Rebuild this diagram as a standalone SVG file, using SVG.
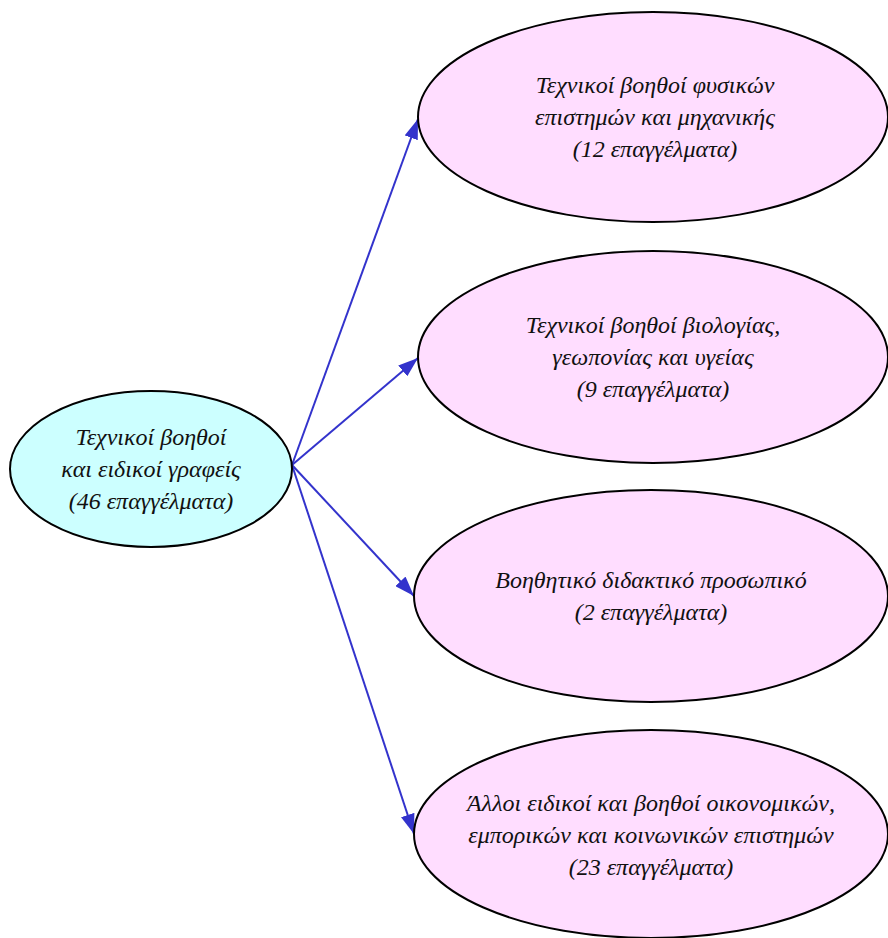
<svg xmlns="http://www.w3.org/2000/svg" width="888" height="938" viewBox="0 0 888 938">
<defs>
<style>
.root ellipse{fill:#ccffff;stroke:#000;stroke-width:2}
.leaf ellipse{fill:#ffddff;stroke:#000;stroke-width:2}
text{font-family:"Liberation Serif","DejaVu Serif",serif;font-style:italic;font-size:24px;fill:#111;text-anchor:middle}
.edge{stroke:#3333cc;stroke-width:2;fill:none}
</style>
<marker id="ah" viewBox="0 0 20 14" refX="20" refY="7" markerWidth="20" markerHeight="14" markerUnits="userSpaceOnUse" orient="auto">
<path d="M0,0 L20,7 L0,14 Z" fill="#3333cc"/>
</marker>
</defs>
<rect width="888" height="938" fill="#fff"/>
<g id="connectors">
<line class="edge" x1="292" y1="465" x2="418" y2="119" marker-end="url(#ah)"/>
<line class="edge" x1="292" y1="465" x2="418" y2="358" marker-end="url(#ah)"/>
<line class="edge" x1="292" y1="465" x2="414" y2="596" marker-end="url(#ah)"/>
<line class="edge" x1="292" y1="465" x2="414" y2="834" marker-end="url(#ah)"/>
</g>
<g id="root" class="root">
<ellipse cx="151" cy="469" rx="141" ry="78"/>
<text x="151" y="445">Τεχνικοί βοηθοί</text>
<text x="151" y="477">και ειδικοί γραφείς</text>
<text x="151" y="509">(46 επαγγέλματα)</text>
</g>
<g id="n1" class="leaf">
<ellipse cx="653" cy="117" rx="235" ry="105"/>
<text x="655" y="93">Τεχνικοί βοηθοί φυσικών</text>
<text x="655" y="125">επιστημών και μηχανικής</text>
<text x="655" y="157">(12 επαγγέλματα)</text>
</g>
<g id="n2" class="leaf">
<ellipse cx="653" cy="357" rx="235" ry="106"/>
<text x="653" y="333">Τεχνικοί βοηθοί βιολογίας,</text>
<text x="653" y="365">γεωπονίας και υγείας</text>
<text x="653" y="397">(9 επαγγέλματα)</text>
</g>
<g id="n3" class="leaf">
<ellipse cx="651" cy="596" rx="237" ry="106"/>
<text x="651" y="588">Βοηθητικό διδακτικό προσωπικό</text>
<text x="651" y="620">(2 επαγγέλματα)</text>
</g>
<g id="n4" class="leaf">
<ellipse cx="651" cy="834" rx="237" ry="104"/>
<text x="651" y="811">Άλλοι ειδικοί και βοηθοί οικονομικών,</text>
<text x="651" y="843">εμπορικών και κοινωνικών επιστημών</text>
<text x="651" y="875">(23 επαγγέλματα)</text>
</g>
</svg>
